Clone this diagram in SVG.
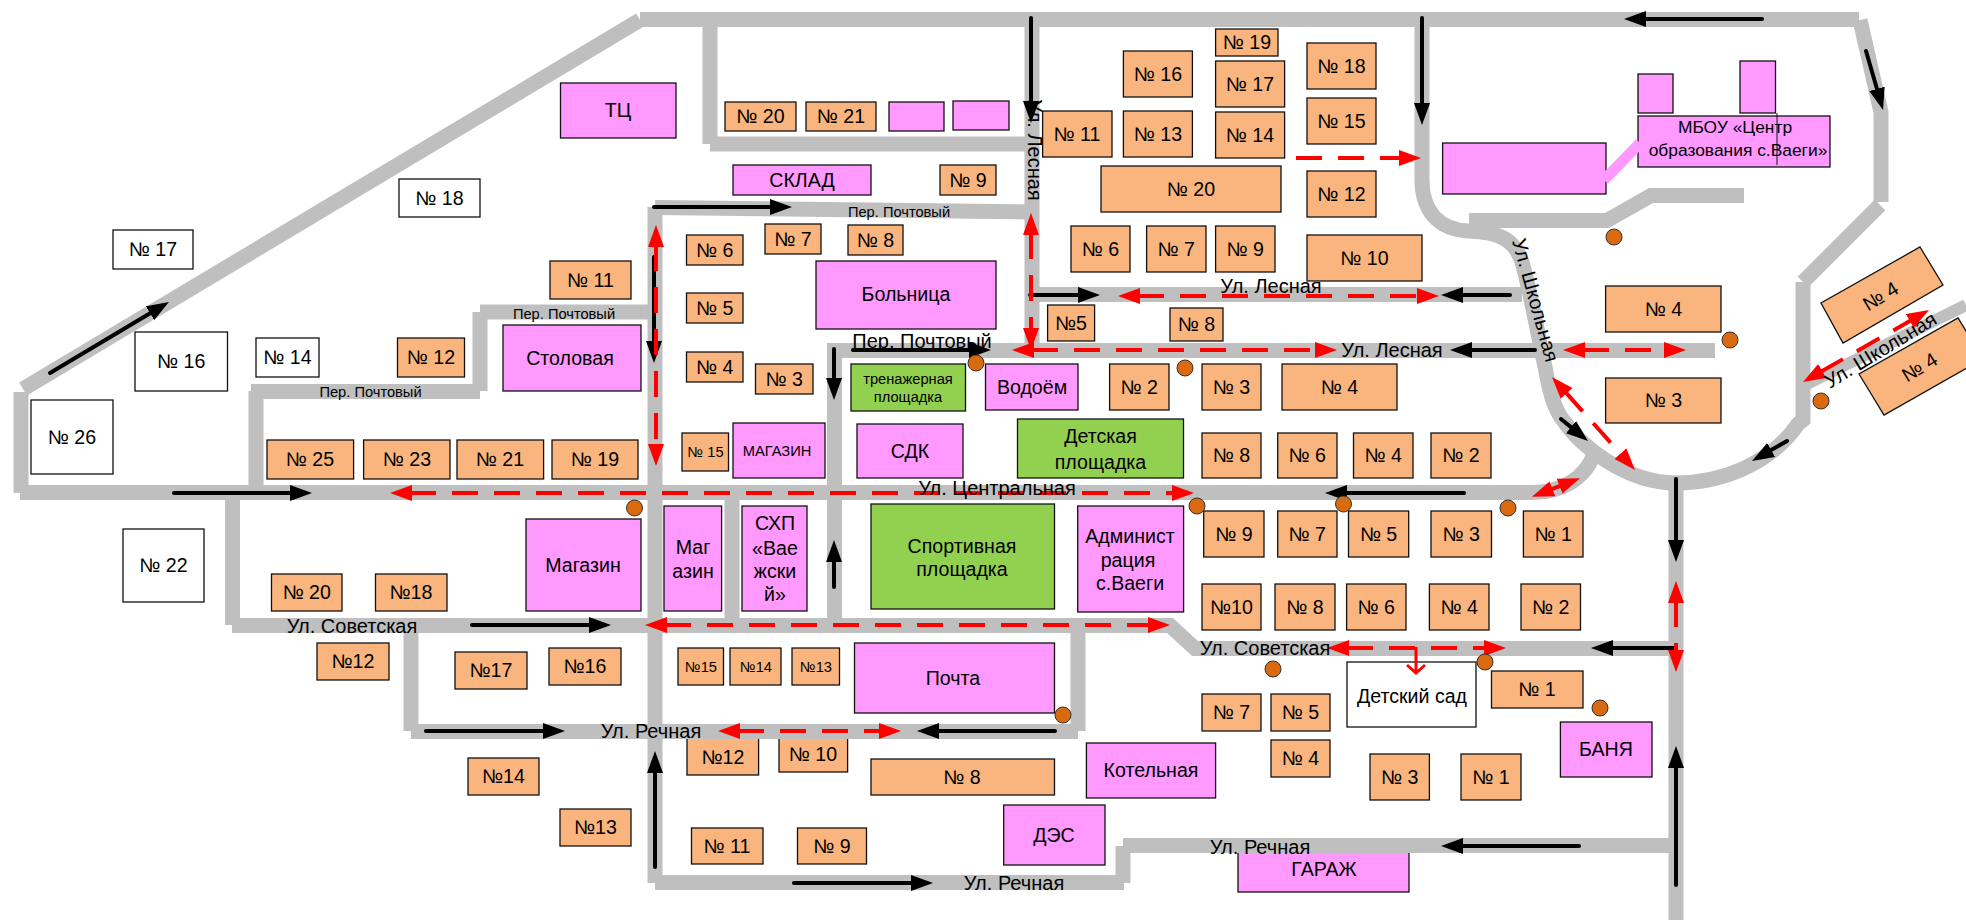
<svg xmlns="http://www.w3.org/2000/svg" width="1966" height="920" viewBox="0 0 1966 920">
<style>
text{font-family:"Liberation Sans",Arial,sans-serif;font-size:19.6px;fill:#000;text-anchor:middle}
.s{font-size:14.67px}.xs{font-size:14.67px}.st{font-size:20px}
rect,polygon.b{stroke:#111;stroke-width:1.3}
.o{fill:#F9B57D}.p{fill:#FF99FF}.g{fill:#92D050}.w{fill:#fff}
.road{fill:none;stroke:#BFBFBF;stroke-width:15}
.bk{fill:none;stroke:#000;stroke-width:4;stroke-linecap:round;marker-end:url(#hb)}
.rd{fill:none;stroke:#f00;stroke-width:4;stroke-dasharray:26 16;marker-start:url(#hr);marker-end:url(#hr)}
.dot{fill:#D96A10;stroke:#333;stroke-width:1}
</style>
<defs>
<marker id="hb" markerUnits="userSpaceOnUse" markerWidth="24" markerHeight="16" refX="2" refY="8" orient="auto-start-reverse"><path d="M0 0L22 8L0 16z" fill="#000"/></marker>
<marker id="hr" markerUnits="userSpaceOnUse" markerWidth="24" markerHeight="16" refX="2" refY="8" orient="auto-start-reverse"><path d="M0 0L22 8L0 16z" fill="#f00"/></marker>
</defs>
<g id="nodes">
<g id="tc"><rect class="p" x="560.500" y="83" width="115.500" height="55"/><text x="618" y="117">ТЦ</text></g>
<g id="h20a"><rect class="o" x="725" y="102" width="71" height="29"/><text x="760.500" y="123">№ 20</text></g>
<g id="h21a"><rect class="o" x="806" y="102" width="70" height="29"/><text x="841" y="123">№ 21</text></g>
<g id="blank1"><rect class="p" x="889" y="102" width="55" height="29"/></g>
<g id="blank2"><rect class="p" x="953" y="101" width="56" height="29"/></g>
<g id="sklad"><rect class="p" x="733" y="165" width="138" height="30"/><text x="802" y="186.500">СКЛАД</text></g>
<g id="h9a"><rect class="o" x="940" y="165" width="56" height="30"/><text x="968" y="186.500">№ 9</text></g>
<g id="h18w"><rect class="w" x="399" y="179" width="81" height="38"/><text x="439.500" y="204.500">№ 18</text></g>
<g id="h17w"><rect class="w" x="113" y="230" width="80" height="39"/><text x="153" y="256">№ 17</text></g>
<g id="h11a"><rect class="o" x="550" y="261" width="81" height="38"/><text x="590.500" y="286.500">№ 11</text></g>
<g id="h6a"><rect class="o" x="686.500" y="235" width="56.500" height="30"/><text x="714.800" y="256.500">№ 6</text></g>
<g id="h7a"><rect class="o" x="765" y="224" width="56" height="30"/><text x="793" y="245.500">№ 7</text></g>
<g id="h8a"><rect class="o" x="848" y="225" width="55" height="30"/><text x="875.500" y="246.500">№ 8</text></g>
<g id="hospital"><rect class="p" x="816" y="261" width="180" height="68"/><text x="906" y="301">Больница</text></g>
<g id="h5a"><rect class="o" x="686.500" y="293" width="56.500" height="30"/><text x="714.800" y="314.500">№ 5</text></g>
<g id="h4a"><rect class="o" x="686.500" y="352" width="56.500" height="30"/><text x="714.800" y="373.500">№ 4</text></g>
<g id="h3a"><rect class="o" x="755.500" y="364" width="57.500" height="30"/><text x="784.200" y="385.500">№ 3</text></g>
<g id="h16w"><rect class="w" x="135" y="332" width="92.500" height="59"/><text x="181.200" y="368">№ 16</text></g>
<g id="h14w"><rect class="w" x="256" y="338" width="63" height="39"/><text x="287.500" y="364">№ 14</text></g>
<g id="h12a"><rect class="o" x="397.500" y="338" width="67" height="39"/><text x="431" y="364">№ 12</text></g>
<g id="canteen"><rect class="p" x="503" y="325" width="138" height="66"/><text x="570" y="364.500">Столовая</text></g>
<g id="h26w"><rect class="w" x="31" y="400" width="82" height="74"/><text x="72" y="443.500">№ 26</text></g>
<g id="gym"><rect class="g" x="851" y="364" width="114.500" height="47"/><text class="s" x="908" y="384">тренажерная</text><text class="s" x="908" y="402">площадка</text></g>
<g id="h25"><rect class="o" x="267" y="440" width="86.600" height="39"/><text x="310" y="466">№ 25</text></g>
<g id="h23"><rect class="o" x="363.600" y="440" width="86.400" height="39"/><text x="407" y="466">№ 23</text></g>
<g id="h21"><rect class="o" x="457" y="440" width="86.600" height="39"/><text x="500" y="466">№ 21</text></g>
<g id="h19"><rect class="o" x="552" y="440" width="86" height="39"/><text x="595" y="466">№ 19</text></g>
<g id="h15b"><rect class="o" x="682" y="433" width="46.500" height="38"/><text class="xs" x="705.500" y="456.500">№ 15</text></g>
<g id="shop1"><rect class="p" x="733" y="423" width="92" height="55"/><text class="s" x="777" y="456">МАГАЗИН</text></g>
<g id="sdk"><rect class="p" x="857" y="424" width="106" height="54"/><text x="910" y="457.500">СДК</text></g>
<g id="h19n"><rect class="o" x="1215.600" y="29" width="62.400" height="27"/><text x="1247" y="49">№ 19</text></g>
<g id="h16n"><rect class="o" x="1123.400" y="51" width="69" height="46"/><text x="1158" y="80.500">№ 16</text></g>
<g id="h17n"><rect class="o" x="1215.600" y="61" width="69" height="46"/><text x="1250" y="90.500">№ 17</text></g>
<g id="h18n"><rect class="o" x="1307" y="43" width="69" height="46"/><text x="1341.500" y="72.500">№ 18</text></g>
<g id="h15n"><rect class="o" x="1307" y="98" width="69" height="46"/><text x="1341.500" y="127.500">№ 15</text></g>
<g id="h11n"><rect class="o" x="1042.600" y="111" width="69.400" height="46"/><text x="1077" y="140.500">№ 11</text></g>
<g id="h13n"><rect class="o" x="1123.400" y="111" width="69" height="46"/><text x="1158" y="140.500">№ 13</text></g>
<g id="h14n"><rect class="o" x="1215.600" y="112" width="69" height="46"/><text x="1250" y="141.500">№ 14</text></g>
<g id="h20n"><rect class="o" x="1101" y="166" width="180" height="46"/><text x="1191" y="195.500">№ 20</text></g>
<g id="h12n"><rect class="o" x="1307" y="171" width="69" height="46"/><text x="1341.500" y="200.500">№ 12</text></g>
<g id="h6n"><rect class="o" x="1071" y="226" width="59" height="46"/><text x="1100.500" y="255.500">№ 6</text></g>
<g id="h7n"><rect class="o" x="1146.600" y="226" width="59.400" height="46"/><text x="1176.300" y="255.500">№ 7</text></g>
<g id="h9n"><rect class="o" x="1215.600" y="226" width="59.400" height="46"/><text x="1245.300" y="255.500">№ 9</text></g>
<g id="h10n"><rect class="o" x="1307" y="235" width="115" height="46"/><text x="1364.500" y="264.500">№ 10</text></g>
<g id="h5n"><rect class="o" x="1047.600" y="305" width="47" height="36"/><text x="1071" y="329.500">№5</text></g>
<g id="h8n"><rect class="o" x="1170" y="308" width="53" height="33"/><text x="1196.500" y="331">№ 8</text></g>
<g id="h2c"><rect class="o" x="1109.600" y="364" width="59.400" height="46"/><text x="1139.300" y="393.500">№ 2</text></g>
<g id="h3c"><rect class="o" x="1202" y="364" width="59" height="46"/><text x="1231.500" y="393.500">№ 3</text></g>
<g id="h4c"><rect class="o" x="1282" y="364" width="115" height="46"/><text x="1339.500" y="393.500">№ 4</text></g>
<g id="pond"><rect class="p" x="985.500" y="364" width="92.500" height="46"/><text x="1032" y="393.500">Водоём</text></g>
<g id="playground"><rect class="g" x="1017.500" y="419" width="166" height="59"/><text x="1100.500" y="443">Детская</text><text x="1100.500" y="469">площадка</text></g>
<g id="h8c"><rect class="o" x="1202" y="433" width="59" height="45"/><text x="1231.500" y="462">№ 8</text></g>
<g id="h6c"><rect class="o" x="1277.700" y="433" width="59.300" height="45"/><text x="1307.300" y="462">№ 6</text></g>
<g id="h4d"><rect class="o" x="1353.500" y="433" width="59.500" height="45"/><text x="1383.200" y="462">№ 4</text></g>
<g id="h2d"><rect class="o" x="1431" y="433" width="60" height="45"/><text x="1461" y="462">№ 2</text></g>
<g id="h4e"><rect class="o" x="1605.600" y="286" width="115.400" height="46"/><text x="1663.500" y="315.500">№ 4</text></g>
<g id="h3e"><rect class="o" x="1605.600" y="378" width="115.400" height="45"/><text x="1663.500" y="407">№ 3</text></g>
<g id="school"><rect class="p" x="1638" y="74" width="35" height="39"/><rect class="p" x="1740" y="61" width="35.500" height="52"/><rect class="p" x="1638" y="116" width="192" height="51"/><path d="M1777 113V165" stroke="#111" stroke-width="1" fill="none"/><text style="font-size:17.400px" x="1735" y="133">МБОУ «Центр</text><text style="font-size:17.400px" x="1738" y="156">образования с.Ваеги»</text></g>
<g id="school2"><rect class="p" x="1442.600" y="143" width="163.400" height="51"/></g>
<g id="h4r1"><polygon class="b o" points="1920,247 1943,285 1843,343 1821,303"/><text transform="translate(1884 302) rotate(-31.300)">№ 4</text></g>
<g id="h4r2"><polygon class="b o" points="1859,374 1884,415 1983,359 1958,318"/><text transform="translate(1923 373) rotate(-31.300)">№ 4</text></g>
<g id="shop2"><rect class="p" x="526" y="519" width="115" height="92"/><text x="583" y="571.500">Магазин</text></g>
<g id="shop3"><rect class="p" x="664" y="506" width="57.600" height="105"/><text x="693" y="553.500">Маг</text><text x="693" y="577.500">азин</text></g>
<g id="shp"><rect class="p" x="742" y="506" width="65" height="105"/><text x="775" y="529.500">СХП</text><text x="775" y="554.500">«Вае</text><text x="775" y="577.500">жски</text><text x="775" y="600.500">й»</text></g>
<g id="sport"><rect class="g" x="871" y="504" width="183.500" height="105"/><text x="962" y="552.500">Спортивная</text><text x="962" y="575.500">площадка</text></g>
<g id="h22w"><rect class="w" x="123" y="529" width="81" height="73"/><text x="163.500" y="572">№ 22</text></g>
<g id="h20s"><rect class="o" x="271.500" y="574" width="70.500" height="37"/><text x="306.800" y="599">№ 20</text></g>
<g id="h18s"><rect class="o" x="375.500" y="574" width="71.500" height="37"/><text x="411" y="599">№18</text></g>
<g id="h12s"><rect class="o" x="317" y="643" width="72" height="37"/><text x="353" y="668">№12</text></g>
<g id="h17s"><rect class="o" x="455" y="652" width="72" height="37"/><text x="491" y="677">№17</text></g>
<g id="h16s"><rect class="o" x="549" y="648" width="72" height="37"/><text x="585" y="673">№16</text></g>
<g id="h15s"><rect class="o" x="678" y="648" width="45.500" height="37"/><text class="xs" x="701" y="672">№15</text></g>
<g id="h14s"><rect class="o" x="730" y="648" width="51" height="37"/><text class="xs" x="756" y="672">№14</text></g>
<g id="h13s"><rect class="o" x="792" y="648" width="47.500" height="37"/><text class="xs" x="816" y="672">№13</text></g>
<g id="post"><rect class="p" x="854.500" y="643" width="200" height="70"/><text x="953" y="684.500">Почта</text></g>
<g id="h12r"><rect class="o" x="687" y="735" width="71.600" height="40"/><text x="723" y="763.500">№12</text></g>
<g id="h10r"><rect class="o" x="779" y="735" width="68.600" height="37"/><text x="813" y="761">№ 10</text></g>
<g id="h8r"><rect class="o" x="871" y="759" width="183.500" height="36"/><text x="962" y="783.500">№ 8</text></g>
<g id="h14r"><rect class="o" x="468" y="758" width="71" height="37"/><text x="503.500" y="783">№14</text></g>
<g id="h13r"><rect class="o" x="560" y="809" width="71" height="37"/><text x="595.500" y="834">№13</text></g>
<g id="h11r"><rect class="o" x="691.500" y="828" width="71.500" height="36"/><text x="727" y="852.500">№ 11</text></g>
<g id="h9r"><rect class="o" x="797.500" y="828" width="69" height="36"/><text x="832" y="852.500">№ 9</text></g>
<g id="admin"><rect class="p" x="1077.700" y="506" width="105.900" height="106"/><text x="1130" y="542.500">Админист</text><text x="1128" y="566.500">рация</text><text x="1130" y="589.500">с.Ваеги</text></g>
<g id="h9s"><rect class="o" x="1203.700" y="511" width="60.300" height="46"/><text x="1234" y="540.500">№ 9</text></g>
<g id="h7s"><rect class="o" x="1277.700" y="511" width="59.300" height="46"/><text x="1307.300" y="540.500">№ 7</text></g>
<g id="h5s"><rect class="o" x="1348.500" y="511" width="60.200" height="46"/><text x="1378.600" y="540.500">№ 5</text></g>
<g id="h3s"><rect class="o" x="1431" y="511" width="60.500" height="46"/><text x="1461.200" y="540.500">№ 3</text></g>
<g id="h1s"><rect class="o" x="1523.400" y="511" width="59.600" height="46"/><text x="1553.200" y="540.500">№ 1</text></g>
<g id="h10t"><rect class="o" x="1202" y="584" width="59" height="46"/><text x="1231.500" y="613.500">№10</text></g>
<g id="h8t"><rect class="o" x="1275" y="584" width="60" height="46"/><text x="1305" y="613.500">№ 8</text></g>
<g id="h6t"><rect class="o" x="1346.600" y="584" width="59.400" height="46"/><text x="1376.300" y="613.500">№ 6</text></g>
<g id="h4t"><rect class="o" x="1429.400" y="584" width="59.600" height="46"/><text x="1459.200" y="613.500">№ 4</text></g>
<g id="h2t"><rect class="o" x="1521" y="584" width="59.500" height="46"/><text x="1550.800" y="613.500">№ 2</text></g>
<g id="h7u"><rect class="o" x="1202" y="694" width="59" height="37"/><text x="1231.500" y="719">№ 7</text></g>
<g id="h5u"><rect class="o" x="1271" y="694" width="59" height="37"/><text x="1300.500" y="719">№ 5</text></g>
<g id="h4u"><rect class="o" x="1271" y="740" width="59" height="37"/><text x="1300.500" y="765">№ 4</text></g>
<g id="kindergarten"><rect class="w" x="1347" y="662" width="129" height="65"/><text x="1412" y="702.500">Детский сад</text></g>
<g id="h1u"><rect class="o" x="1491.500" y="671" width="91.500" height="37"/><text x="1537" y="696">№ 1</text></g>
<g id="bath"><rect class="p" x="1560.400" y="722" width="91.600" height="55"/><text x="1606" y="756">БАНЯ</text></g>
<g id="h3v"><rect class="o" x="1370" y="754" width="59.400" height="46"/><text x="1399.700" y="783.500">№ 3</text></g>
<g id="h1v"><rect class="o" x="1461" y="754" width="60" height="46"/><text x="1491" y="783.500">№ 1</text></g>
<g id="boiler"><rect class="p" x="1086.400" y="743" width="129.200" height="55"/><text x="1151" y="777">Котельная</text></g>
<g id="des"><rect class="p" x="1003.700" y="805" width="101.300" height="60"/><text x="1054" y="842">ДЭС</text></g>
<g id="garage"><rect class="p" x="1238" y="848" width="171" height="44"/><text x="1324" y="876">ГАРАЖ</text></g>
</g>
<g id="connectors">
<g id="roads">
<path class="road" d="M640 19.500H1859"/>
<path class="road" d="M640 20L23 389"/>
<path class="road" d="M21 392V493"/>
<path class="road" d="M20 492.500H1532C1560 492.500 1585 480 1595 452"/>
<path class="road" d="M1422 19V180C1422 210 1438 230 1469 231C1500 232 1515 240 1522 262C1530 290 1537 330 1545 367C1550 395 1555 410 1563 420C1580 445 1625 483 1676 483C1720 483 1770 465 1798 424L1803 420V282"/>
<path class="road" d="M1803 282L1880 205"/>
<path class="road" d="M1881 202V112L1860 20"/>
<path class="road" d="M1032 19V350"/>
<path class="road" d="M710 144H1032"/>
<path class="road" d="M710 19V144"/>
<path class="road" d="M655 207.500L1032 212"/>
<path class="road" d="M655 207V883"/>
<path class="road" d="M655 882.500H1124"/>
<path class="road" d="M1123 846V883"/>
<path class="road" d="M1123 845.500H1676"/>
<path class="road" d="M480 312H655"/>
<path class="road" d="M480 312V391"/>
<path class="road" d="M251 391.500H480"/>
<path class="road" d="M256 391V493"/>
<path class="road" d="M834.500 343V625"/>
<path class="road" d="M834 350.500H1715"/>
<path class="road" d="M1032 294.500H1522"/>
<path class="road" d="M232 625.500H1170L1195 648.500H1676"/>
<path class="road" d="M232.500 493V625"/>
<path class="road" d="M411 625V731"/>
<path class="road" d="M411 731.500H1078"/>
<path class="road" d="M1078 625V731"/>
<path class="road" d="M732 493V625"/>
<path class="road" d="M1676 483V920"/>
<path class="road" d="M1469 220.500H1607L1651 195.500H1744"/>
<path class="road" style="stroke-width:12" d="M1801 387L1966 305"/>
<path d="M1604 180L1640 143" fill="none" stroke="#FF99FF" stroke-width="11"/>
</g>
<g id="arrows-black">
<path class="bk" d="M50 373L151.800 312.200"/>
<path class="bk" d="M654 207H772"/>
<path class="bk" d="M654 257V343"/>
<path class="bk" d="M853 350H971"/>
<path class="bk" d="M834 349V380"/>
<path class="bk" d="M1031 18V103"/>
<path class="bk" d="M1422 18V105"/>
<path class="bk" d="M1762 19H1644"/>
<path class="bk" d="M1866 51L1877.500 90.800"/>
<path class="bk" d="M1030 295H1080"/>
<path class="bk" d="M1510 295H1461"/>
<path class="bk" d="M1535 350H1470"/>
<path class="bk" d="M1561 419L1572.500 428.400"/>
<path class="bk" d="M1787 441L1769.400 451"/>
<path class="bk" d="M174 493H292"/>
<path class="bk" d="M834 587V560"/>
<path class="bk" d="M472 625H591"/>
<path class="bk" d="M426 731H545"/>
<path class="bk" d="M1055 731H937"/>
<path class="bk" d="M655 867V771"/>
<path class="bk" d="M794 883H913"/>
<path class="bk" d="M1464 493H1345"/>
<path class="bk" d="M1676 479V542"/>
<path class="bk" d="M1674 648H1611"/>
<path class="bk" d="M1676 885V766"/>
<path class="bk" d="M1579 846H1461"/>
</g>
<g id="arrows-red">
<path class="rd" d="M656 245V446"/>
<path class="rd" d="M410 493H1174"/>
<path class="rd" d="M665 625H1150"/>
<path class="rd" d="M738 731H881"/>
<path class="rd" d="M1138 296H1419"/>
<path class="rd" d="M1031 233V330"/>
<path class="rd" d="M1032 350H1317"/>
<path class="rd" d="M1583 350H1666"/>
<path class="rd" d="M1565.300 391.900L1621.700 455.100"/>
<path class="rd" style="marker-start:none" d="M1296 158H1401"/>
<path class="rd" d="M1820.400 372L1911.600 320"/>
<path class="rd" d="M1550.600 489.600L1561.400 485.400"/>
<path class="rd" d="M1347 648H1486"/>
<path class="rd" d="M1676 601V652"/>
<path d="M1416 647V673M1407 665L1416 673L1425 665" fill="none" stroke="#f00" stroke-width="3"/>
</g>
</g>
<g id="markers">
<circle class="dot" cx="976" cy="363" r="8"/>
<circle class="dot" cx="1614" cy="237" r="8"/>
<circle class="dot" cx="1730" cy="340" r="8"/>
<circle class="dot" cx="1185" cy="368" r="8"/>
<circle class="dot" cx="1821" cy="401" r="8"/>
<circle class="dot" cx="634.500" cy="508" r="8"/>
<circle class="dot" cx="1197" cy="506" r="8"/>
<circle class="dot" cx="1343.500" cy="504" r="8"/>
<circle class="dot" cx="1508" cy="508" r="8"/>
<circle class="dot" cx="1063" cy="715" r="8"/>
<circle class="dot" cx="1273" cy="669" r="8"/>
<circle class="dot" cx="1485" cy="662" r="8"/>
<circle class="dot" cx="1600" cy="708" r="8"/>
</g>
<g id="street-labels">
<text class="st" x="1271" y="293">Ул. Лесная</text>
<text class="st" x="1392" y="357">Ул. Лесная</text>
<text class="s" x="899" y="216.500">Пер. Почтовый</text>
<text class="s" x="564" y="319">Пер. Почтовый</text>
<text class="s" x="370.500" y="397">Пер. Почтовый</text>
<text class="st" x="922" y="347.500">Пер. Почтовый</text>
<text class="st" x="997" y="495">Ул. Центральная</text>
<text class="st" x="352" y="632.500">Ул. Советская</text>
<text class="st" x="1265" y="655">Ул. Советская</text>
<text class="st" x="651" y="738">Ул. Речная</text>
<text class="st" x="1014" y="890">Ул. Речная</text>
<text class="st" x="1260" y="854">Ул. Речная</text>
<text class="st" transform="translate(1028 150) rotate(90)">Ул. Лесная</text>
<text class="st" transform="translate(1529 302) rotate(74.500)">Ул. Школьная</text>
<text class="st" transform="translate(1884 356) rotate(-31.300)">Ул. Школьная</text>
</g>
</svg>
